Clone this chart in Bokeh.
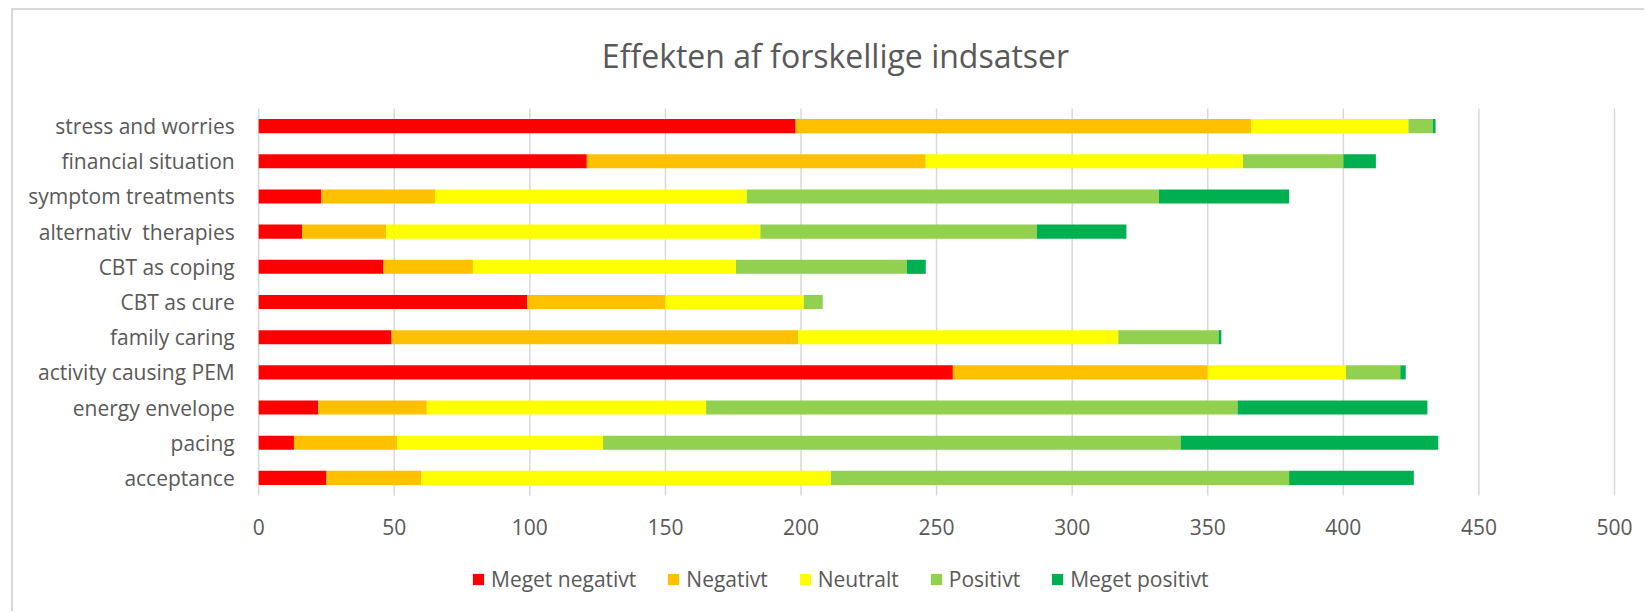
from bokeh.plotting import figure
from bokeh.models import ColumnDataSource, Range1d, FixedTicker, Legend, LegendItem, Label
from bokeh.embed import file_html
from bokeh.resources import INLINE

title_text = "Effekten af forskellige indsatser"
categories = ["stress and worries", "financial situation", "symptom treatments",
              "alternativ\u00a0 therapies", "CBT as coping", "CBT as cure", "family caring",
              "activity causing PEM", "energy envelope", "pacing", "acceptance"]
series_names = ["Meget negativt", "Negativt", "Neutralt", "Positivt", "Meget positivt"]
meget_negativt = [198, 121, 23, 16, 46, 99, 49, 256, 22, 13, 25]
negativt = [168, 125, 42, 31, 33, 51, 150, 94, 40, 38, 35]
neutralt = [58, 117, 115, 138, 97, 51, 118, 51, 103, 76, 151]
positivt = [9, 37, 152, 102, 63, 7, 37, 20, 196, 213, 169]
meget_positivt = [1, 12, 48, 33, 7, 0, 1, 2, 70, 95, 46]
colors = ["#FF0000", "#FFC000", "#FFFF00", "#92D050", "#00B050"]
x_ticks = [0, 50, 100, 150, 200, 250, 300, 350, 400, 450, 500]

TXT = "#595959"
GRID = "#d9d9d9"
FONT = "Open Sans"

# layout geometry (page pixels)
FIG_LEFT, FIG_RIGHT = 13, 1646
FIG_TOP, FIG_BOTTOM = 10, 613
AREA_LEFT, AREA_RIGHT = 258.2, 1614
AREA_TOP, AREA_BOTTOM = 108, 495
rows = len(categories)
px_row = (AREA_BOTTOM - AREA_TOP) / rows
px_unit = (AREA_RIGHT - AREA_LEFT) / (x_ticks[-1] - x_ticks[0])
y_lo = -(FIG_BOTTOM - AREA_BOTTOM) / px_row
y_hi = rows + (AREA_TOP - FIG_TOP) / px_row
x_lo = x_ticks[0] - (AREA_LEFT - FIG_LEFT) / px_unit
x_hi = x_ticks[-1] + (FIG_RIGHT - AREA_RIGHT) / px_unit

ypos = [rows - i - 0.5 for i in range(rows)]

source = ColumnDataSource(data={
    "y": ypos,
    "cat": categories,
    series_names[0]: meget_negativt,
    series_names[1]: negativt,
    series_names[2]: neutralt,
    series_names[3]: positivt,
    series_names[4]: meget_positivt,
})

p = figure(width=FIG_RIGHT - FIG_LEFT, height=FIG_BOTTOM - FIG_TOP,
           y_range=Range1d(y_lo, y_hi),
           x_range=Range1d(x_lo, x_hi),
           output_backend="svg", toolbar_location=None,
           min_border_left=0, min_border_right=0,
           min_border_top=0, min_border_bottom=0)
p.outline_line_color = None
p.styles = {"border-left": "2px solid #d9d9d9", "border-top": "2px solid #d9d9d9",
            "margin-left": "11px", "margin-top": "8px"}

# vertical grid lines, limited to the category area
grid_src = ColumnDataSource(data={"x": x_ticks, "y0": [0] * len(x_ticks), "y1": [rows] * len(x_ticks)})
p.segment(x0="x", y0="y0", x1="x", y1="y1", source=grid_src, line_color=GRID, line_width=1.5)

renderers = p.hbar_stack(series_names, y="y", height=0.4, color=colors,
                         source=source, line_color=None)

p.xgrid.visible = False
p.ygrid.visible = False

p.xaxis.ticker = FixedTicker(ticks=x_ticks)
p.xaxis.fixed_location = 0
p.yaxis.ticker = FixedTicker(ticks=ypos)
p.yaxis.fixed_location = x_ticks[0]
p.yaxis.major_label_overrides = {y: c for y, c in zip(ypos, categories)}
for ax in (p.xaxis, p.yaxis):
    ax.axis_line_color = None
    ax.major_tick_line_color = None
    ax.minor_tick_line_color = None
    ax.major_label_text_font = FONT
    ax.major_label_text_font_size = "21px"
    ax.major_label_text_color = TXT
p.xaxis.major_label_standoff = 17
p.yaxis.major_label_standoff = 18

legend = Legend(items=[LegendItem(label=n, renderers=[r]) for n, r in zip(series_names, renderers)],
                orientation="horizontal", location=(471 - FIG_LEFT, 20),
                glyph_width=14, glyph_height=14, label_standoff=6, spacing=30,
                padding=0, margin=0, border_line_color=None, background_fill_alpha=0,
                label_text_font=FONT, label_text_font_size="21px", label_text_color=TXT)
p.add_layout(legend)

title = Label(x=(835 - AREA_LEFT) / px_unit, y=(AREA_BOTTOM - 55) / px_row, text=title_text,
              text_align="center", text_baseline="middle",
              text_font=FONT, text_font_size="32px", text_color=TXT)
p.add_layout(title)

open("out.html", "w").write(file_html(p, INLINE))
